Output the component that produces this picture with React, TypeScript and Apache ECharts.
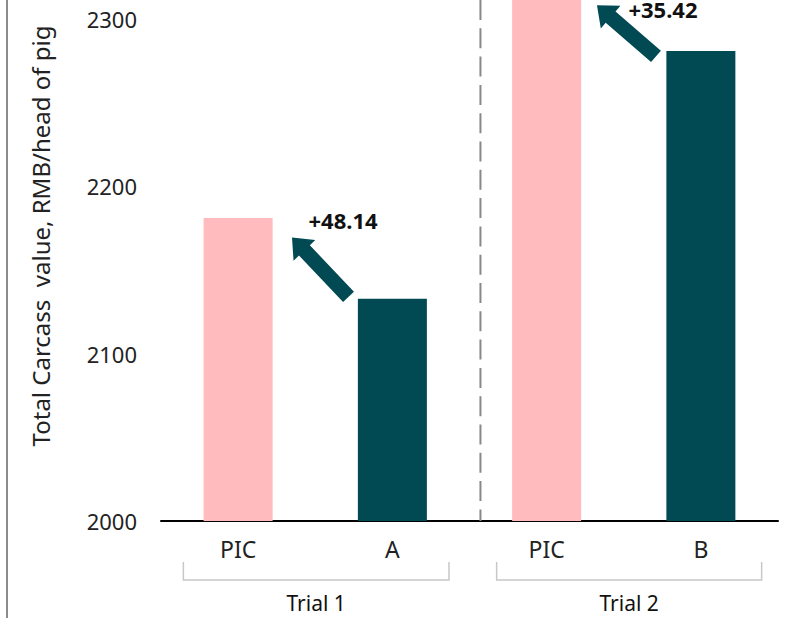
import React, { useEffect, useRef } from "react";
import * as echarts from "echarts";

const categories = ["PIC", "A", "PIC", "B"];
const values = [2181.04, 2132.9, 2316.32, 2280.9];
const barColors = ["#FFBBBD", "#024A53", "#FFBBBD", "#024A53"];
const yTicks = [2000, 2100, 2200, 2300];
const yMin = 2000;
const yMax = 2311.4;
const groupNames = ["Trial 1", "Trial 2"];
const groupSpans = [
  [-0.355, 1.367],
  [1.676, 3.394],
];
const deltaLabels = ["+48.14", "+35.42"];
// arrow: [tailX, tailY, tipX, tipY, labelX, labelY] in data units
const arrows = [
  [0.7156, 2134.0, 0.3493, 2169.5, 0.68, 2180.2],
  [2.709, 2277.7, 2.3266, 2308.2, 2.754, 2306.0],
];
const dividerX = 1.571;
const yTitle = "Total Carcass  value, RMB/head of pig";

const FONT = "Noto Sans";

export default function App() {
  const ref = useRef<HTMLDivElement>(null);
  useEffect(() => {
    if (!ref.current) return;
    const chart = echarts.init(ref.current, null, { renderer: "svg" });
    const option: any = {
      animation: false,
      backgroundColor: "#ffffff",
      textStyle: { fontFamily: FONT },
      grid: { left: 161, right: 7, top: 0, bottom: 97, containLabel: false },
      xAxis: [
        {
          type: "category",
          data: categories,
          axisLine: { show: true, lineStyle: { color: "#000", width: 2 } },
          axisTick: { show: false },
          axisLabel: { color: "#222", fontSize: 23, margin: 16, fontFamily: FONT },
          splitLine: { show: false },
        },
        {
          type: "value",
          min: -0.5,
          max: 3.5,
          show: false,
        },
      ],
      yAxis: {
        type: "value",
        min: yMin,
        max: yMax,
        interval: 100,
        axisLine: { show: false },
        axisTick: { show: false },
        splitLine: { show: false },
        axisLabel: {
          color: "#222",
          fontSize: 22,
          margin: 24,
          fontFamily: FONT,
          formatter: (v: number) => (yTicks.includes(Math.round(v * 1000) / 1000) ? String(v) : ""),
        },
      },
      graphic: [
        { type: "rect", shape: { x: 6, y: 0, width: 2, height: 618 }, style: { fill: "#8c8c8c" } },
        {
          type: "text",
          x: 40,
          y: 236,
          rotation: Math.PI / 2,
          style: {
            text: yTitle,
            fontSize: 24,
            fontFamily: FONT,
            fill: "#222",
            align: "center",
            verticalAlign: "middle",
          },
        },
      ],
      series: [
        {
          type: "bar",
          xAxisIndex: 0,
          yAxisIndex: 0,
          barWidth: 69,
          data: values.map((v, i) => ({ value: v, itemStyle: { color: barColors[i] } })),
        },
        {
          type: "line",
          xAxisIndex: 1,
          yAxisIndex: 0,
          symbol: "none",
          silent: true,
          data: [
            [dividerX, yMax],
            [dividerX, yMin],
          ],
          lineStyle: { color: "#888", width: 2, type: [20, 8.3] },
        },
        {
          type: "custom",
          xAxisIndex: 1,
          yAxisIndex: 0,
          clip: false,
          silent: true,
          data: arrows,
          renderItem: (params: any, api: any) => {
            const p0 = api.coord([api.value(0), api.value(1)]);
            const p1 = api.coord([api.value(2), api.value(3)]);
            const t = api.coord([api.value(4), api.value(5)]);
            const dx = p1[0] - p0[0];
            const dy = p1[1] - p0[1];
            const len = Math.sqrt(dx * dx + dy * dy);
            const ux = dx / len;
            const uy = dy / len;
            const nx = -uy;
            const ny = ux;
            const w = 15 / 2;
            const W = 30 / 2;
            const L = 18;
            const neck = [p1[0] - ux * L, p1[1] - uy * L];
            const pts = [
              [p0[0] + nx * w, p0[1] + ny * w],
              [neck[0] + nx * w, neck[1] + ny * w],
              [neck[0] + nx * W, neck[1] + ny * W],
              [p1[0], p1[1]],
              [neck[0] - nx * W, neck[1] - ny * W],
              [neck[0] - nx * w, neck[1] - ny * w],
              [p0[0] - nx * w, p0[1] - ny * w],
            ];
            return {
              type: "group",
              children: [
                { type: "polygon", shape: { points: pts }, style: { fill: "#024A53" } },
                {
                  type: "text",
                  x: t[0],
                  y: t[1],
                  style: {
                    text: deltaLabels[params.dataIndex],
                    fontSize: 22,
                    fontWeight: "bold",
                    fontFamily: FONT,
                    fill: "#111",
                    align: "center",
                    verticalAlign: "middle",
                  },
                },
              ],
            };
          },
        },
        {
          type: "custom",
          xAxisIndex: 1,
          yAxisIndex: 0,
          clip: false,
          silent: true,
          data: groupSpans,
          renderItem: (params: any, api: any) => {
            const a = api.coord([api.value(0), yMin]);
            const b = api.coord([api.value(1), yMin]);
            const y = a[1];
            return {
              type: "group",
              children: [
                {
                  type: "polyline",
                  shape: {
                    points: [
                      [a[0], y + 41],
                      [a[0], y + 59],
                      [b[0], y + 59],
                      [b[0], y + 41],
                    ],
                  },
                  style: { stroke: "#c8c8c8", lineWidth: 1.5, fill: null },
                },
                {
                  type: "text",
                  x: (a[0] + b[0]) / 2,
                  y: y + 82,
                  style: {
                    text: groupNames[params.dataIndex],
                    fontSize: 21,
                    fontFamily: FONT,
                    fill: "#111",
                    align: "center",
                    verticalAlign: "middle",
                  },
                },
              ],
            };
          },
        },
      ],
    };
    chart.setOption(option);
    return () => chart.dispose();
  }, []);
  return (
    <div
      ref={ref}
      style={{ position: "fixed", left: 0, top: 0, width: 785, height: 618 }}
    />
  );
}
